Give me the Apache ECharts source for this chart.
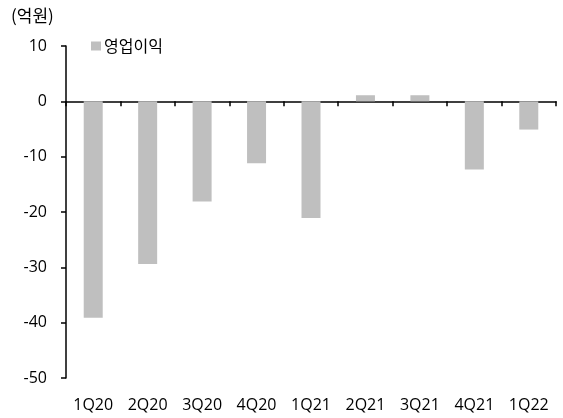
<!DOCTYPE html>
<html><head><meta charset="utf-8">
<script src="https://cdn.jsdelivr.net/npm/echarts@6/dist/echarts.min.js"></script>
<style>html,body{margin:0;padding:0;background:#fff}#c{width:563px;height:418px}</style>
</head><body><div id="c"></div>
<script>
var categories = ['1Q20','2Q20','3Q20','4Q20','1Q21','2Q21','3Q21','4Q21','1Q22'];
var operatingProfit = [-39.1, -29.4, -18.1, -11.2, -21.1, 1.1, 1.1, -12.3, -5.1];
var seriesName = '영업이익';
var unitLabel = '(억원)';
var yMin = -50, yMax = 10, yInterval = 10;

var font = '"Noto Sans CJK KR", "Noto Sans", sans-serif';
var numFont = '"Open Sans", "Noto Sans CJK KR", sans-serif';
var chart = echarts.init(document.getElementById('c'), null, {renderer:'canvas'});
chart.setOption({
  animation: false,
  textStyle: {fontFamily: font},
  grid: {left: 66, right: 7, top: 46, bottom: 40, containLabel: false},
  graphic: [{type:'text', left: 11, top: 7, style:{text: unitLabel, font: '17px ' + font, fill:'#000'}}],
  legend: {
    data: [seriesName], left: 86, top: 33, icon: 'rect', itemWidth: 10, itemHeight: 9, itemGap: 4,
    textStyle: {fontSize: 16, color: '#000', fontFamily: font, padding:[0,0,0,-2]}
  },
  xAxis: [{
    type: 'category', data: categories, boundaryGap: true,
    axisLine: {onZero: true, lineStyle: {color:'#000', width: 1.5}},
    axisTick: {show: true, inside: false, length: 5, alignWithLabel: false, lineStyle:{color:'#000', width:1.5}},
    axisLabel: {show: false}, splitLine: {show:false}
  },{
    type: 'category', data: categories, position: 'bottom', boundaryGap: true,
    axisLine: {show: false, onZero: false}, axisTick: {show:false},
    axisLabel: {show: true, margin: 19, fontSize: 16, color:'#000', fontFamily: numFont},
    splitLine: {show:false}
  }],
  yAxis: {
    type: 'value', min: yMin, max: yMax, interval: yInterval,
    axisLine: {show: true, lineStyle:{color:'#000', width:1.5}},
    axisTick: {show: true, length: 5, lineStyle:{color:'#000', width:1.5}},
    axisLabel: {fontSize: 16, color:'#000', margin: 19, fontFamily: numFont},
    splitLine: {show: false}
  },
  series: [{
    name: seriesName, type: 'bar', data: operatingProfit, barWidth: 19, xAxisIndex: 0,
    itemStyle: {color: '#bfbfbf'}
  }]
});
</script></body></html>
